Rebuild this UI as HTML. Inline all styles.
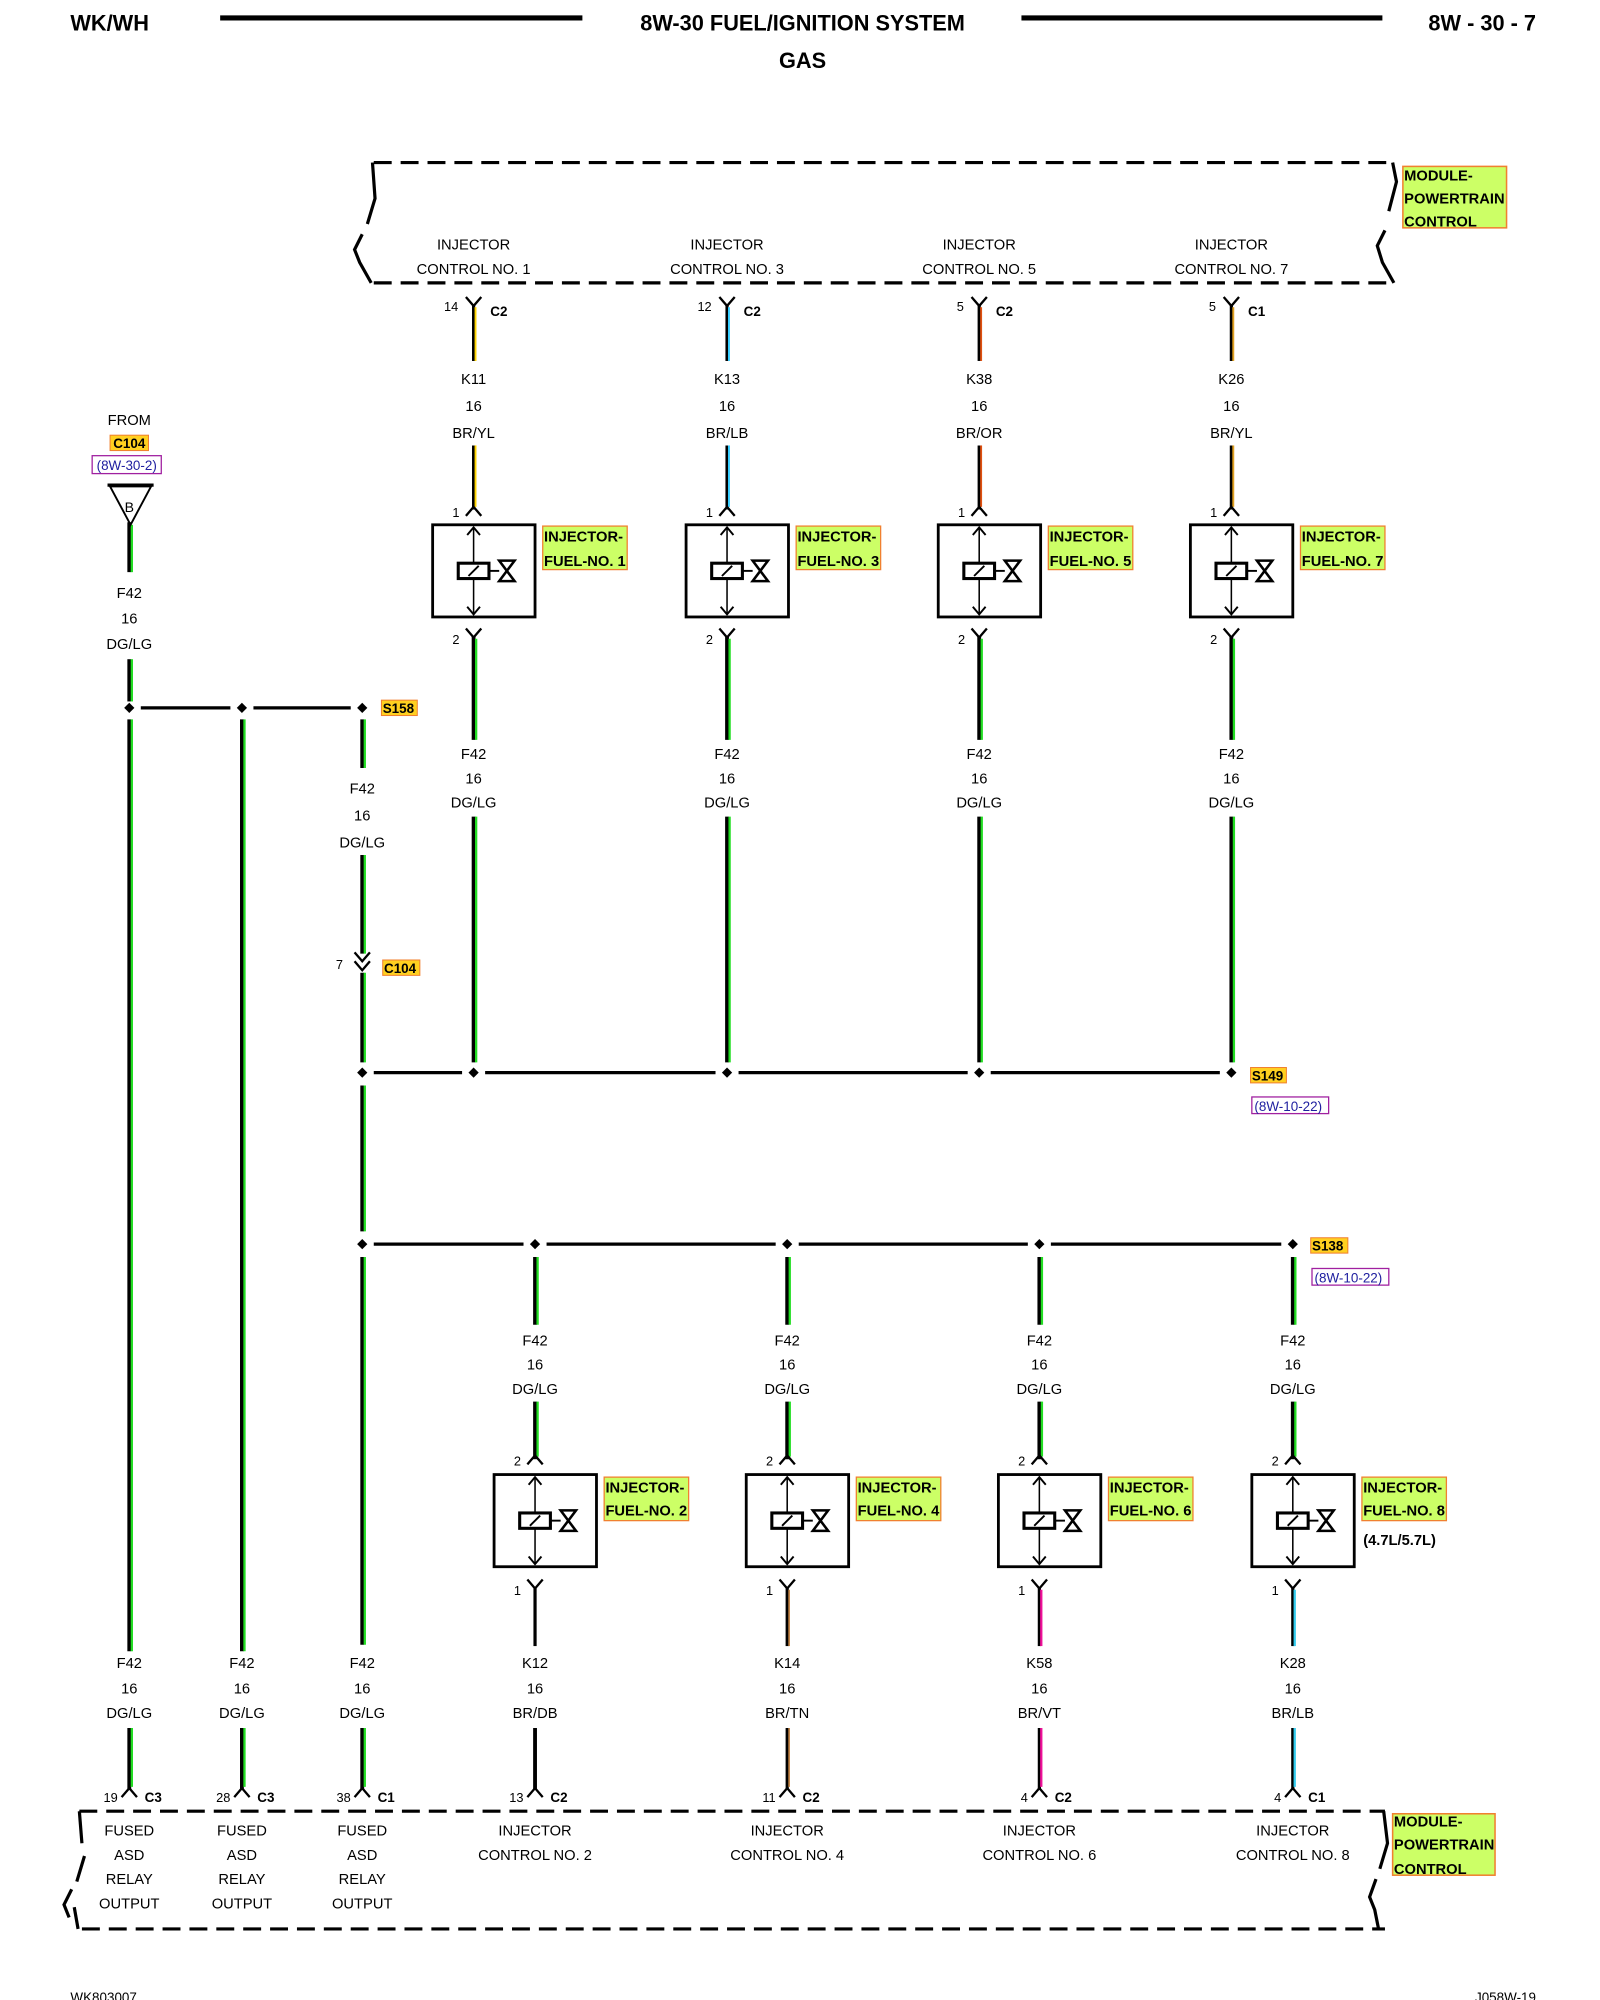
<!DOCTYPE html>
<html><head><meta charset="utf-8"><style>
html,body{margin:0;padding:0;background:#fff;width:1600px;height:2000px;overflow:hidden}
svg{display:block}
text{font-family:"Liberation Sans",sans-serif;font-size:11.5px;fill:#000}
.b{font-weight:bold}
.m{text-anchor:middle}
.e{text-anchor:end}
</style></head><body>
<svg width="1600" height="2000" viewBox="0 0 1250 1562.5" xmlns="http://www.w3.org/2000/svg">
<defs>
<g id="inj">
<rect x="-32" y="0" width="80" height="72" fill="#fff" stroke="#000" stroke-width="2.2"/>
<line x1="0" y1="2" x2="0" y2="70" stroke="#000" stroke-width="1.2"/>
<polyline points="-5,8 0,2 5,8" fill="none" stroke="#000" stroke-width="1.5"/>
<polyline points="-5,64 0,70 5,64" fill="none" stroke="#000" stroke-width="1.5"/>
<line x1="12" y1="36" x2="20" y2="36" stroke="#000" stroke-width="1.5"/>
<rect x="-12" y="30" width="24" height="12" fill="#fff" stroke="#000" stroke-width="2.4"/>
<line x1="-4" y1="40" x2="4" y2="32" stroke="#000" stroke-width="1.5"/>
<path d="M20,28 L32,28 L20,44 L32,44 Z" fill="none" stroke="#000" stroke-width="2"/>
</g>
<g id="up"><polyline points="-6,7 0,0 6,7" fill="none" stroke="#000" stroke-width="1.8"/></g>
<g id="dn"><polyline points="-6,0 0,7 6,0" fill="none" stroke="#000" stroke-width="1.8"/></g>
<g id="dot"><path d="M0,-4 L4,0 L0,4 L-4,0 Z" fill="#000"/></g>
</defs>

<!-- header -->
<text x="55" y="24" class="b" style="font-size:17px">WK/WH</text>
<line x1="172" y1="14" x2="455" y2="14" stroke="#000" stroke-width="4"/>
<text x="627" y="24" class="b m" style="font-size:17px">8W-30 FUEL/IGNITION SYSTEM</text>
<line x1="798" y1="14" x2="1080" y2="14" stroke="#000" stroke-width="4"/>
<text x="1200" y="24" class="b e" style="font-size:17px">8W - 30 - 7</text>
<text x="627" y="53" class="b m" style="font-size:17px">GAS</text>

<!-- top module -->
<g fill="none" stroke="#000" stroke-width="2.5">
<line x1="292" y1="127" x2="1088" y2="127" stroke-dasharray="14,7"/>
<line x1="292" y1="221" x2="1088" y2="221" stroke-dasharray="14,7"/>
<polyline points="291,127 293,155 287,175"/>
<polyline points="283,183 277,195 281,205 290,221"/>
<polyline points="1088,127 1091,142 1085,165"/>
<polyline points="1082,180 1076,192 1080,205 1089,221"/>
</g>
<rect x="1096" y="130" width="81" height="48" fill="#ccff66" stroke="#f08030" stroke-width="1.2"/>
<text x="1097" y="141" class="b">MODULE-</text>
<text x="1097" y="159" class="b">POWERTRAIN</text>
<text x="1097" y="177" class="b">CONTROL</text>

<g class="m">
<text x="370" y="195" class="m">INJECTOR</text><text x="370" y="214" class="m">CONTROL NO. 1</text>
<text x="568" y="195" class="m">INJECTOR</text><text x="568" y="214" class="m">CONTROL NO. 3</text>
<text x="765" y="195" class="m">INJECTOR</text><text x="765" y="214" class="m">CONTROL NO. 5</text>
<text x="962" y="195" class="m">INJECTOR</text><text x="962" y="214" class="m">CONTROL NO. 7</text>
</g>

<!-- top columns -->
<g>
<!-- col1 -->
<use href="#dn" x="370" y="232"/>
<line x1="370" y1="238" x2="370" y2="282" stroke="#000" stroke-width="2.5"/><line x1="371.5" y1="240" x2="371.5" y2="282" stroke="#ffd400" stroke-width="1.5"/>
<line x1="370" y1="348" x2="370" y2="398" stroke="#000" stroke-width="2.5"/><line x1="371.5" y1="348" x2="371.5" y2="396" stroke="#ffd400" stroke-width="1.5"/>
<!-- col3 -->
<use href="#dn" x="568" y="232"/>
<line x1="568" y1="238" x2="568" y2="282" stroke="#000" stroke-width="2.5"/><line x1="569.5" y1="240" x2="569.5" y2="282" stroke="#33ccff" stroke-width="1.5"/>
<line x1="568" y1="348" x2="568" y2="398" stroke="#000" stroke-width="2.5"/><line x1="569.5" y1="348" x2="569.5" y2="396" stroke="#33ccff" stroke-width="1.5"/>
<!-- col5 -->
<use href="#dn" x="765" y="232"/>
<line x1="765" y1="238" x2="765" y2="282" stroke="#000" stroke-width="2.5"/><line x1="766.5" y1="240" x2="766.5" y2="282" stroke="#e05010" stroke-width="1.5"/>
<line x1="765" y1="348" x2="765" y2="398" stroke="#000" stroke-width="2.5"/><line x1="766.5" y1="348" x2="766.5" y2="396" stroke="#e05010" stroke-width="1.5"/>
<!-- col7 -->
<use href="#dn" x="962" y="232"/>
<line x1="962" y1="238" x2="962" y2="282" stroke="#000" stroke-width="2.5"/><line x1="963.5" y1="240" x2="963.5" y2="282" stroke="#e0a020" stroke-width="1.5"/>
<line x1="962" y1="348" x2="962" y2="398" stroke="#000" stroke-width="2.5"/><line x1="963.5" y1="348" x2="963.5" y2="396" stroke="#e0a020" stroke-width="1.5"/>
</g>
<text x="358" y="243" class="e" style="font-size:10px">14</text><text x="383" y="247" class="b" style="font-size:10.5px">C2</text>
<text x="556" y="243" class="e" style="font-size:10px">12</text><text x="581" y="247" class="b" style="font-size:10.5px">C2</text>
<text x="753" y="243" class="e" style="font-size:10px">5</text><text x="778" y="247" class="b" style="font-size:10.5px">C2</text>
<text x="950" y="243" class="e" style="font-size:10px">5</text><text x="975" y="247" class="b" style="font-size:10.5px">C1</text>

<g>
<text x="370" y="300" class="m">K11</text><text x="370" y="321" class="m">16</text><text x="370" y="342" class="m">BR/YL</text>
<text x="568" y="300" class="m">K13</text><text x="568" y="321" class="m">16</text><text x="568" y="342" class="m">BR/LB</text>
<text x="765" y="300" class="m">K38</text><text x="765" y="321" class="m">16</text><text x="765" y="342" class="m">BR/OR</text>
<text x="962" y="300" class="m">K26</text><text x="962" y="321" class="m">16</text><text x="962" y="342" class="m">BR/YL</text>
</g>

<!-- top injectors -->
<g>
<use href="#up" x="370" y="396"/><use href="#inj" x="370" y="410"/><use href="#dn" x="370" y="491"/>
<use href="#up" x="568" y="396"/><use href="#inj" x="568" y="410"/><use href="#dn" x="568" y="491"/>
<use href="#up" x="765" y="396"/><use href="#inj" x="765" y="410"/><use href="#dn" x="765" y="491"/>
<use href="#up" x="962" y="396"/><use href="#inj" x="962" y="410"/><use href="#dn" x="962" y="491"/>
</g>
<g style="font-size:10px">
<text x="359" y="404" class="e" style="font-size:10px">1</text><text x="359" y="503" class="e" style="font-size:10px">2</text>
<text x="557" y="404" class="e" style="font-size:10px">1</text><text x="557" y="503" class="e" style="font-size:10px">2</text>
<text x="754" y="404" class="e" style="font-size:10px">1</text><text x="754" y="503" class="e" style="font-size:10px">2</text>
<text x="951" y="404" class="e" style="font-size:10px">1</text><text x="951" y="503" class="e" style="font-size:10px">2</text>
</g>
<g>
<rect x="424" y="411" width="66" height="34" fill="#ccff66" stroke="#f08030" stroke-width="1"/>
<text x="425" y="423" class="b">INJECTOR-</text><text x="425" y="442" class="b">FUEL-NO. 1</text>
<rect x="622" y="411" width="66" height="34" fill="#ccff66" stroke="#f08030" stroke-width="1"/>
<text x="623" y="423" class="b">INJECTOR-</text><text x="623" y="442" class="b">FUEL-NO. 3</text>
<rect x="819" y="411" width="66" height="34" fill="#ccff66" stroke="#f08030" stroke-width="1"/>
<text x="820" y="423" class="b">INJECTOR-</text><text x="820" y="442" class="b">FUEL-NO. 5</text>
<rect x="1016" y="411" width="66" height="34" fill="#ccff66" stroke="#f08030" stroke-width="1"/>
<text x="1017" y="423" class="b">INJECTOR-</text><text x="1017" y="442" class="b">FUEL-NO. 7</text>
</g>

<!-- green wires (black core + green) -->
<g stroke-width="3">
<g stroke="#000">
<line x1="370" y1="497" x2="370" y2="578"/><line x1="568" y1="497" x2="568" y2="578"/><line x1="765" y1="497" x2="765" y2="578"/><line x1="962" y1="497" x2="962" y2="578"/>
<line x1="370" y1="638" x2="370" y2="830"/><line x1="568" y1="638" x2="568" y2="830"/><line x1="765" y1="638" x2="765" y2="830"/><line x1="962" y1="638" x2="962" y2="830"/>
<line x1="101" y1="408" x2="101" y2="447"/><line x1="101" y1="515" x2="101" y2="548"/>
<line x1="101" y1="562" x2="101" y2="1290"/><line x1="189" y1="562" x2="189" y2="1290"/>
<line x1="283" y1="562" x2="283" y2="600"/><line x1="283" y1="668" x2="283" y2="745"/><line x1="283" y1="760" x2="283" y2="830"/><line x1="283" y1="848" x2="283" y2="962"/><line x1="283" y1="982" x2="283" y2="1285"/>
<line x1="101" y1="1350" x2="101" y2="1398"/><line x1="189" y1="1350" x2="189" y2="1398"/><line x1="283" y1="1350" x2="283" y2="1398"/>
<line x1="418" y1="982" x2="418" y2="1035"/><line x1="615" y1="982" x2="615" y2="1035"/><line x1="812" y1="982" x2="812" y2="1035"/><line x1="1010" y1="982" x2="1010" y2="1035"/>
<line x1="418" y1="1095" x2="418" y2="1140"/><line x1="615" y1="1095" x2="615" y2="1140"/><line x1="812" y1="1095" x2="812" y2="1140"/><line x1="1010" y1="1095" x2="1010" y2="1140"/>
</g>
<g stroke="#22dd22" stroke-width="1.8" transform="translate(2,0)">
<line x1="370" y1="499" x2="370" y2="578"/><line x1="568" y1="499" x2="568" y2="578"/><line x1="765" y1="499" x2="765" y2="578"/><line x1="962" y1="499" x2="962" y2="578"/>
<line x1="370" y1="638" x2="370" y2="830"/><line x1="568" y1="638" x2="568" y2="830"/><line x1="765" y1="638" x2="765" y2="830"/><line x1="962" y1="638" x2="962" y2="830"/>
<line x1="101" y1="410" x2="101" y2="447"/><line x1="101" y1="515" x2="101" y2="548"/>
<line x1="101" y1="562" x2="101" y2="1290"/><line x1="189" y1="562" x2="189" y2="1290"/>
<line x1="283" y1="562" x2="283" y2="600"/><line x1="283" y1="668" x2="283" y2="745"/><line x1="283" y1="760" x2="283" y2="830"/><line x1="283" y1="848" x2="283" y2="962"/><line x1="283" y1="982" x2="283" y2="1285"/>
<line x1="101" y1="1350" x2="101" y2="1396"/><line x1="189" y1="1350" x2="189" y2="1396"/><line x1="283" y1="1350" x2="283" y2="1396"/>
<line x1="418" y1="982" x2="418" y2="1035"/><line x1="615" y1="982" x2="615" y2="1035"/><line x1="812" y1="982" x2="812" y2="1035"/><line x1="1010" y1="982" x2="1010" y2="1035"/>
<line x1="418" y1="1095" x2="418" y2="1138"/><line x1="615" y1="1095" x2="615" y2="1138"/><line x1="812" y1="1095" x2="812" y2="1138"/><line x1="1010" y1="1095" x2="1010" y2="1138"/>
</g>
</g>

<g>
<text x="370" y="593" class="m">F42</text><text x="370" y="612" class="m">16</text><text x="370" y="631" class="m">DG/LG</text>
<text x="568" y="593" class="m">F42</text><text x="568" y="612" class="m">16</text><text x="568" y="631" class="m">DG/LG</text>
<text x="765" y="593" class="m">F42</text><text x="765" y="612" class="m">16</text><text x="765" y="631" class="m">DG/LG</text>
<text x="962" y="593" class="m">F42</text><text x="962" y="612" class="m">16</text><text x="962" y="631" class="m">DG/LG</text>
</g>

<!-- splice S149 -->
<g stroke="#000" stroke-width="2.5">
<line x1="292" y1="838" x2="361" y2="838"/><line x1="379" y1="838" x2="559" y2="838"/><line x1="577" y1="838" x2="756" y2="838"/><line x1="774" y1="838" x2="953" y2="838"/>
</g>
<use href="#dot" x="283" y="838"/><use href="#dot" x="370" y="838"/><use href="#dot" x="568" y="838"/><use href="#dot" x="765" y="838"/><use href="#dot" x="962" y="838"/>
<rect x="977" y="834" width="28" height="12" fill="#ffd020" stroke="#f08030" stroke-width="0.8"/>
<text x="978" y="844" class="b" style="font-size:10.5px">S149</text>
<rect x="978" y="857" width="60" height="13" fill="none" stroke="#a020a0" stroke-width="1"/>
<text x="980" y="868" style="font-size:10.5px;fill:#2020a0">(8W-10-22)</text>

<!-- left source -->
<text x="101" y="332" class="m">FROM</text>
<rect x="86" y="340" width="30" height="12" fill="#ffd020" stroke="#f08030" stroke-width="0.8"/>
<text x="101" y="350" class="b m" style="font-size:10.5px">C104</text>
<rect x="72" y="356" width="54" height="14" fill="none" stroke="#a020a0" stroke-width="1"/>
<text x="99" y="367" class="m" style="font-size:10.5px;fill:#2020a0">(8W-30-2)</text>
<line x1="84" y1="379" x2="120" y2="379" stroke="#000" stroke-width="2.5"/>
<polygon points="86,380 118,380 102,410" fill="none" stroke="#000" stroke-width="1.5"/>
<text x="101" y="400" class="m" style="font-size:11px">B</text>
<text x="101" y="467" class="m">F42</text><text x="101" y="487" class="m">16</text><text x="101" y="507" class="m">DG/LG</text>

<!-- splice S158 -->
<g stroke="#000" stroke-width="2.5"><line x1="110" y1="553" x2="180" y2="553"/><line x1="198" y1="553" x2="274" y2="553"/></g>
<use href="#dot" x="101" y="553"/><use href="#dot" x="189" y="553"/><use href="#dot" x="283" y="553"/>
<rect x="298" y="547" width="28" height="12" fill="#ffd020" stroke="#f08030" stroke-width="0.8"/>
<text x="299" y="557" class="b" style="font-size:10.5px">S158</text>
<text x="283" y="620" class="m">F42</text><text x="283" y="641" class="m">16</text><text x="283" y="662" class="m">DG/LG</text>
<!-- C104 inline -->
<use href="#dn" x="283" y="744"/><use href="#dn" x="283" y="751"/>
<text x="268" y="757" class="e" style="font-size:10px">7</text>
<rect x="299" y="750" width="29" height="12" fill="#ffd020" stroke="#f08030" stroke-width="0.8"/>
<text x="300" y="760" class="b" style="font-size:10.5px">C104</text>

<!-- splice S138 -->
<g stroke="#000" stroke-width="2.5">
<line x1="292" y1="972" x2="409" y2="972"/><line x1="427" y1="972" x2="606" y2="972"/><line x1="624" y1="972" x2="803" y2="972"/><line x1="821" y1="972" x2="1001" y2="972"/>
</g>
<use href="#dot" x="283" y="972"/><use href="#dot" x="418" y="972"/><use href="#dot" x="615" y="972"/><use href="#dot" x="812" y="972"/><use href="#dot" x="1010" y="972"/>
<rect x="1024" y="967" width="29" height="12" fill="#ffd020" stroke="#f08030" stroke-width="0.8"/>
<text x="1025" y="977" class="b" style="font-size:10.5px">S138</text>
<rect x="1025" y="991" width="60" height="13" fill="none" stroke="#a020a0" stroke-width="1"/>
<text x="1027" y="1002" style="font-size:10.5px;fill:#2020a0">(8W-10-22)</text>

<g>
<text x="418" y="1051" class="m">F42</text><text x="418" y="1070" class="m">16</text><text x="418" y="1089" class="m">DG/LG</text>
<text x="615" y="1051" class="m">F42</text><text x="615" y="1070" class="m">16</text><text x="615" y="1089" class="m">DG/LG</text>
<text x="812" y="1051" class="m">F42</text><text x="812" y="1070" class="m">16</text><text x="812" y="1089" class="m">DG/LG</text>
<text x="1010" y="1051" class="m">F42</text><text x="1010" y="1070" class="m">16</text><text x="1010" y="1089" class="m">DG/LG</text>
</g>

<!-- bottom injectors -->
<g>
<use href="#up" x="418" y="1137"/><use href="#inj" x="418" y="1152"/><use href="#dn" x="418" y="1234"/>
<use href="#up" x="615" y="1137"/><use href="#inj" x="615" y="1152"/><use href="#dn" x="615" y="1234"/>
<use href="#up" x="812" y="1137"/><use href="#inj" x="812" y="1152"/><use href="#dn" x="812" y="1234"/>
<use href="#up" x="1010" y="1137"/><use href="#inj" x="1010" y="1152"/><use href="#dn" x="1010" y="1234"/>
</g>
<g>
<text x="407" y="1145" class="e" style="font-size:10px">2</text><text x="407" y="1246" class="e" style="font-size:10px">1</text>
<text x="604" y="1145" class="e" style="font-size:10px">2</text><text x="604" y="1246" class="e" style="font-size:10px">1</text>
<text x="801" y="1145" class="e" style="font-size:10px">2</text><text x="801" y="1246" class="e" style="font-size:10px">1</text>
<text x="999" y="1145" class="e" style="font-size:10px">2</text><text x="999" y="1246" class="e" style="font-size:10px">1</text>
</g>
<g>
<rect x="472" y="1154" width="66" height="34" fill="#ccff66" stroke="#f08030" stroke-width="1"/>
<text x="473" y="1166" class="b">INJECTOR-</text><text x="473" y="1184" class="b">FUEL-NO. 2</text>
<rect x="669" y="1154" width="66" height="34" fill="#ccff66" stroke="#f08030" stroke-width="1"/>
<text x="670" y="1166" class="b">INJECTOR-</text><text x="670" y="1184" class="b">FUEL-NO. 4</text>
<rect x="866" y="1154" width="66" height="34" fill="#ccff66" stroke="#f08030" stroke-width="1"/>
<text x="867" y="1166" class="b">INJECTOR-</text><text x="867" y="1184" class="b">FUEL-NO. 6</text>
<rect x="1064" y="1154" width="66" height="34" fill="#ccff66" stroke="#f08030" stroke-width="1"/>
<text x="1065" y="1166" class="b">INJECTOR-</text><text x="1065" y="1184" class="b">FUEL-NO. 8</text>
<text x="1065" y="1207" class="b">(4.7L/5.7L)</text>
</g>

<!-- bottom colored wires -->
<g>
<line x1="418" y1="1240" x2="418" y2="1286" stroke="#000" stroke-width="2.5"/><line x1="418" y1="1350" x2="418" y2="1398" stroke="#000" stroke-width="3"/>
<line x1="615" y1="1240" x2="615" y2="1286" stroke="#000" stroke-width="2.5"/><line x1="616.5" y1="1242" x2="616.5" y2="1286" stroke="#c08040" stroke-width="1.3"/>
<line x1="615" y1="1350" x2="615" y2="1398" stroke="#000" stroke-width="2.5"/><line x1="616.5" y1="1350" x2="616.5" y2="1396" stroke="#c08040" stroke-width="1.3"/>
<line x1="812" y1="1240" x2="812" y2="1286" stroke="#000" stroke-width="2.5"/><line x1="813.5" y1="1242" x2="813.5" y2="1286" stroke="#ee1199" stroke-width="1.8"/>
<line x1="812" y1="1350" x2="812" y2="1398" stroke="#000" stroke-width="2.5"/><line x1="813.5" y1="1350" x2="813.5" y2="1396" stroke="#ee1199" stroke-width="1.8"/>
<line x1="1010" y1="1240" x2="1010" y2="1286" stroke="#000" stroke-width="2.5"/><line x1="1011.5" y1="1242" x2="1011.5" y2="1286" stroke="#33ccee" stroke-width="1.8"/>
<line x1="1010" y1="1350" x2="1010" y2="1398" stroke="#000" stroke-width="2.5"/><line x1="1011.5" y1="1350" x2="1011.5" y2="1396" stroke="#33ccee" stroke-width="1.8"/>
</g>

<g>
<text x="101" y="1303" class="m">F42</text><text x="101" y="1323" class="m">16</text><text x="101" y="1342" class="m">DG/LG</text>
<text x="189" y="1303" class="m">F42</text><text x="189" y="1323" class="m">16</text><text x="189" y="1342" class="m">DG/LG</text>
<text x="283" y="1303" class="m">F42</text><text x="283" y="1323" class="m">16</text><text x="283" y="1342" class="m">DG/LG</text>
<text x="418" y="1303" class="m">K12</text><text x="418" y="1323" class="m">16</text><text x="418" y="1342" class="m">BR/DB</text>
<text x="615" y="1303" class="m">K14</text><text x="615" y="1323" class="m">16</text><text x="615" y="1342" class="m">BR/TN</text>
<text x="812" y="1303" class="m">K58</text><text x="812" y="1323" class="m">16</text><text x="812" y="1342" class="m">BR/VT</text>
<text x="1010" y="1303" class="m">K28</text><text x="1010" y="1323" class="m">16</text><text x="1010" y="1342" class="m">BR/LB</text>
</g>

<!-- bottom connectors -->
<g>
<use href="#up" x="101" y="1397"/><use href="#up" x="189" y="1397"/><use href="#up" x="283" y="1397"/>
<use href="#up" x="418" y="1397"/><use href="#up" x="615" y="1397"/><use href="#up" x="812" y="1397"/><use href="#up" x="1010" y="1397"/>
</g>
<g style="font-size:10px">
<text x="92" y="1408" class="e" style="font-size:10px">19</text><text x="113" y="1408" class="b" style="font-size:10.5px">C3</text>
<text x="180" y="1408" class="e" style="font-size:10px">28</text><text x="201" y="1408" class="b" style="font-size:10.5px">C3</text>
<text x="274" y="1408" class="e" style="font-size:10px">38</text><text x="295" y="1408" class="b" style="font-size:10.5px">C1</text>
<text x="409" y="1408" class="e" style="font-size:10px">13</text><text x="430" y="1408" class="b" style="font-size:10.5px">C2</text>
<text x="606" y="1408" class="e" style="font-size:10px">11</text><text x="627" y="1408" class="b" style="font-size:10.5px">C2</text>
<text x="803" y="1408" class="e" style="font-size:10px">4</text><text x="824" y="1408" class="b" style="font-size:10.5px">C2</text>
<text x="1001" y="1408" class="e" style="font-size:10px">4</text><text x="1022" y="1408" class="b" style="font-size:10.5px">C1</text>
</g>

<!-- bottom module -->
<g fill="none" stroke="#000" stroke-width="2.5">
<line x1="62" y1="1415" x2="1082" y2="1415" stroke-dasharray="14,7"/>
<line x1="64" y1="1507" x2="1082" y2="1507" stroke-dasharray="14,7"/>
<polyline points="62,1415 64,1440"/>
<polyline points="66,1450 60,1470"/>
<polyline points="56,1476 50,1488 54,1498"/>
<polyline points="58,1490 61,1507"/>
<polyline points="1081,1415 1084,1440 1078,1460"/>
<polyline points="1075,1468 1070,1482 1074,1492 1077,1507"/>
</g>
<rect x="1088" y="1417" width="80" height="48" fill="#ccff66" stroke="#f08030" stroke-width="1.2"/>
<text x="1089" y="1427" class="b">MODULE-</text>
<text x="1089" y="1445" class="b">POWERTRAIN</text>
<text x="1089" y="1464" class="b">CONTROL</text>

<g>
<text x="101" y="1434" class="m">FUSED</text><text x="101" y="1453" class="m">ASD</text><text x="101" y="1472" class="m">RELAY</text><text x="101" y="1491" class="m">OUTPUT</text>
<text x="189" y="1434" class="m">FUSED</text><text x="189" y="1453" class="m">ASD</text><text x="189" y="1472" class="m">RELAY</text><text x="189" y="1491" class="m">OUTPUT</text>
<text x="283" y="1434" class="m">FUSED</text><text x="283" y="1453" class="m">ASD</text><text x="283" y="1472" class="m">RELAY</text><text x="283" y="1491" class="m">OUTPUT</text>
<text x="418" y="1434" class="m">INJECTOR</text><text x="418" y="1453" class="m">CONTROL NO. 2</text>
<text x="615" y="1434" class="m">INJECTOR</text><text x="615" y="1453" class="m">CONTROL NO. 4</text>
<text x="812" y="1434" class="m">INJECTOR</text><text x="812" y="1453" class="m">CONTROL NO. 6</text>
<text x="1010" y="1434" class="m">INJECTOR</text><text x="1010" y="1453" class="m">CONTROL NO. 8</text>
</g>

<text x="55" y="1564" style="font-size:10.5px">WK803007</text>
<text x="1200" y="1564" class="e" style="font-size:10.5px">J058W-19</text>
</svg>
</body></html>
